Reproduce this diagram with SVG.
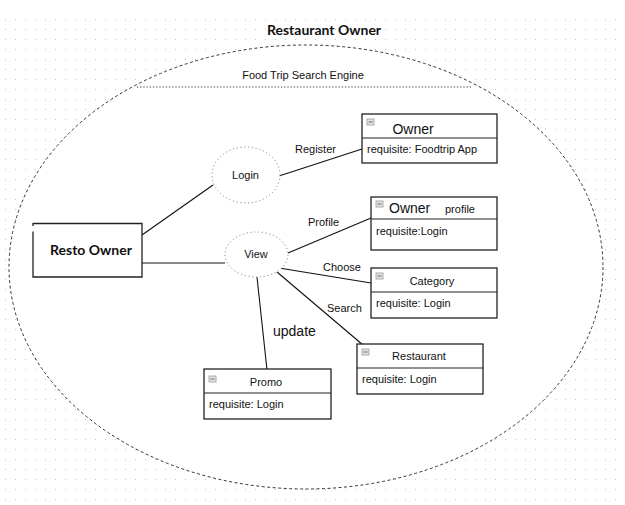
<svg xmlns="http://www.w3.org/2000/svg" width="625" height="505" viewBox="0 0 625 505">
<defs>
<pattern id="grid" x="0" y="14" width="10" height="10" patternUnits="userSpaceOnUse"><rect x="5" y="5" width="1" height="1" fill="#c4c4c4"/></pattern>
<style>
text{font-family:"Liberation Sans",Arial,sans-serif;fill:#111;}
.lbl{font-size:11px;}
.ttl{font-size:14px;}
.bold{font-family:Lato,"Liberation Sans",sans-serif;font-weight:bold;}
.box{fill:#fff;stroke:#222;stroke-width:1.3;}
.div{stroke:#222;stroke-width:1.2;}
.uc{fill:#fff;stroke:#888;stroke-width:1;stroke-dasharray:1.2 2.6;}
.con{stroke:#111;stroke-width:1.1;fill:none;}
.ico{fill:#e4e4e4;stroke:#999;stroke-width:0.8;}
.icl{stroke:#666;stroke-width:1;}
</style>
</defs>
<rect width="625" height="505" fill="#fff"/>
<rect x="0" y="14" width="625" height="491" fill="url(#grid)"/>
<text class="bold" x="324" y="35" font-size="14" text-anchor="middle">Restaurant Owner</text>
<g id="system">
<ellipse cx="306" cy="267" rx="297" ry="222" fill="#fff" stroke="#333" stroke-width="1" stroke-dasharray="3 2.5"/>
<line x1="137" y1="87" x2="473" y2="87" stroke="#333" stroke-width="1" stroke-dasharray="1.2 2"/>
<text class="lbl" x="303" y="79" text-anchor="middle">Food Trip Search Engine</text>
</g>
<g id="connectors">
<line class="con" x1="142" y1="235" x2="213" y2="185"/>
<line class="con" x1="142" y1="263" x2="225" y2="263"/>
<line class="con" x1="279" y1="176" x2="362" y2="149"/>
<line class="con" x1="288" y1="253" x2="371" y2="218"/>
<line class="con" x1="279" y1="268" x2="371" y2="283"/>
<line class="con" x1="277" y1="272" x2="363" y2="345"/>
<line class="con" x1="257" y1="277" x2="267" y2="370"/>
<text class="lbl" x="295" y="153">Register</text>
<text class="lbl" x="308" y="226">Profile</text>
<text class="lbl" x="323" y="271">Choose</text>
<text class="lbl" x="327" y="312">Search</text>
<text x="273" y="336" font-size="14">update</text>
</g>
<g id="resto-owner">
<path d="M33 223.5H142V277H33V231.5" fill="#fff" stroke="#222" stroke-width="1.3"/>
<line x1="33" y1="223" x2="33" y2="226" stroke="#222" stroke-width="1.3"/>
<text class="bold" x="91" y="255" font-size="14" text-anchor="middle">Resto Owner</text>
</g>
<g id="login">
<ellipse class="uc" cx="246" cy="175" rx="34" ry="28"/>
<text class="lbl" x="245.5" y="179" text-anchor="middle">Login</text>
</g>
<g id="view">
<ellipse class="uc" cx="256.5" cy="254.5" rx="31.5" ry="22.5"/>
<text class="lbl" x="256" y="258" text-anchor="middle">View</text>
</g>
<g id="owner">
<rect class="box" x="362" y="114" width="135" height="49"/>
<line class="div" x1="362" y1="138" x2="497" y2="138"/>
<rect class="ico" x="367" y="119" width="7" height="6"/><line class="icl" x1="368.5" y1="122" x2="372.5" y2="122"/>
<text class="ttl" x="413" y="134" text-anchor="middle">Owner</text>
<text class="lbl" x="367" y="153">requisite: Foodtrip App</text>
</g>
<g id="owner-profile">
<rect class="box" x="371" y="197" width="126" height="53"/>
<line class="div" x1="371" y1="219" x2="497" y2="219"/>
<rect class="ico" x="376" y="201" width="7" height="6"/><line class="icl" x1="377.5" y1="204" x2="381.5" y2="204"/>
<text class="ttl" x="389" y="213">Owner</text>
<text class="lbl" x="445" y="213">profile</text>
<text class="lbl" x="376" y="235">requisite:Login</text>
</g>
<g id="category">
<rect class="box" x="371" y="268" width="126" height="50"/>
<line class="div" x1="371" y1="292" x2="497" y2="292"/>
<rect class="ico" x="376" y="273" width="7" height="6"/><line class="icl" x1="377.5" y1="276" x2="381.5" y2="276"/>
<text class="lbl" x="432" y="285" text-anchor="middle">Category</text>
<text class="lbl" x="376" y="307">requisite: Login</text>
</g>
<g id="restaurant">
<rect class="box" x="357" y="344" width="126" height="50"/>
<line class="div" x1="357" y1="368" x2="483" y2="368"/>
<rect class="ico" x="362" y="349" width="7" height="6"/><line class="icl" x1="363.5" y1="352" x2="367.5" y2="352"/>
<text class="lbl" x="419" y="360" text-anchor="middle">Restaurant</text>
<text class="lbl" x="362" y="383">requisite: Login</text>
</g>
<g id="promo">
<rect class="box" x="204" y="369" width="127" height="50"/>
<line class="div" x1="204" y1="393" x2="331" y2="393"/>
<rect class="ico" x="209" y="376" width="7" height="6"/><line class="icl" x1="210.5" y1="379" x2="214.5" y2="379"/>
<text class="lbl" x="266" y="386" text-anchor="middle">Promo</text>
<text class="lbl" x="209" y="408">requisite: Login</text>
</g>
</svg>
